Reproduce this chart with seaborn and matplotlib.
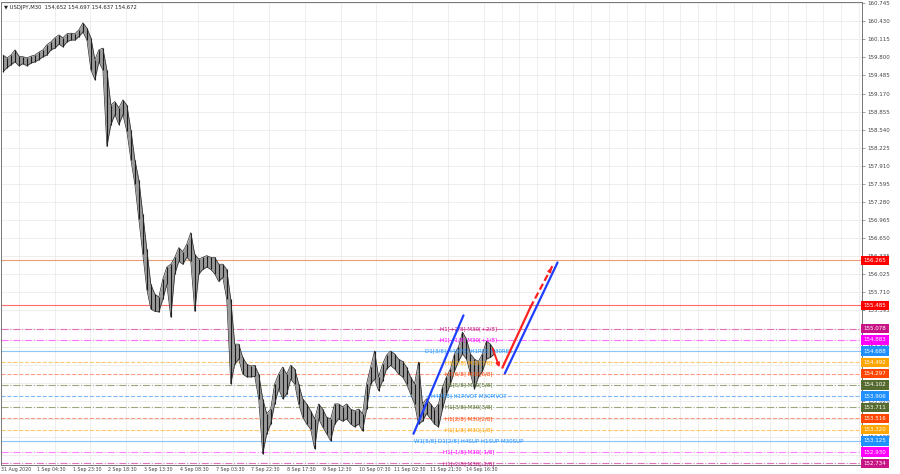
import numpy as np
import matplotlib
matplotlib.use('Agg')
import matplotlib.pyplot as plt
import matplotlib.transforms as mtransforms
import seaborn as sns

# header text
symbol_text = "\u25bc USDJPY,M30  154.652 154.697 154.637 154.672"

# M30 bars (sampled), high / low
highs = [159.84, 159.79, 159.84, 159.93, 159.82, 159.81, 159.79, 159.82, 159.84, 159.89,
         159.93, 160.02, 160.07, 160.14, 160.19, 160.14, 160.21, 160.22, 160.21, 160.28,
         160.40, 160.31, 160.14, 159.76, 159.93, 159.96, 159.58, 158.97, 159.03, 158.92,
         159.06, 158.97, 158.54, 158.02, 157.67, 157.07, 156.46, 155.85, 155.68, 155.63,
         155.94, 156.15, 156.20, 156.32, 156.49, 156.42, 156.55, 156.75, 156.37, 156.29,
         156.32, 156.35, 156.32, 156.32, 156.20, 156.20, 156.11, 155.59, 154.81, 154.81,
         154.58, 154.46, 154.43, 154.44, 154.29, 153.86, 153.60, 153.68, 154.12, 154.29,
         154.41, 154.29, 154.44, 154.38, 154.12, 153.86, 153.77, 153.65, 153.51, 153.77,
         153.68, 153.54, 153.51, 153.77, 153.77, 153.72, 153.77, 153.68, 153.65, 153.68,
         153.60, 154.12, 154.41, 154.69, 154.24, 154.46, 154.62, 154.69, 154.64, 154.55,
         154.51, 154.41, 154.24, 154.12, 154.50, 153.77, 153.86, 153.77, 153.68, 153.77,
         154.06, 154.24, 154.38, 154.64, 154.76, 155.02, 154.90, 154.64, 154.55, 154.51,
         154.64, 154.86, 154.81, 154.70]
lows = [159.55, 159.62, 159.67, 159.72, 159.65, 159.69, 159.65, 159.70, 159.72, 159.76,
        159.81, 159.84, 159.93, 159.96, 160.03, 159.98, 160.07, 160.10, 160.10, 160.16,
        160.24, 160.10, 159.58, 159.41, 159.72, 159.58, 158.25, 158.63, 158.80, 158.63,
        158.80, 158.51, 158.02, 157.59, 156.98, 156.37, 155.76, 155.42, 155.38, 155.37,
        155.59, 155.85, 155.28, 156.03, 156.25, 156.20, 156.32, 156.25, 155.38, 156.03,
        156.11, 156.15, 156.11, 156.03, 155.90, 155.97, 155.59, 154.12, 154.46, 154.55,
        154.29, 154.24, 154.24, 154.25, 153.86, 152.90, 153.25, 153.42, 153.77, 154.03,
        153.86, 153.94, 154.20, 154.12, 153.77, 153.54, 153.42, 153.33, 152.99, 153.51,
        153.37, 153.25, 153.13, 153.42, 153.51, 153.47, 153.51, 153.42, 153.37, 153.42,
        153.30, 153.68, 154.12, 154.20, 154.00, 154.17, 154.38, 154.44, 154.38, 154.29,
        154.24, 154.12, 153.94, 153.77, 153.42, 153.47, 153.60, 153.51, 153.42, 153.37,
        153.68, 153.94, 154.12, 154.34, 154.51, 154.64, 154.55, 154.29, 154.03, 154.24,
        154.34, 154.55, 154.58, 154.64]

time_labels = ["31 Aug 2020", "1 Sep 04:30", "1 Sep 23:30", "2 Sep 18:30", "3 Sep 13:30",
               "4 Sep 08:30", "7 Sep 03:30", "7 Sep 22:30", "8 Sep 17:30", "9 Sep 12:30",
               "10 Sep 07:30", "11 Sep 02:30", "11 Sep 21:30", "14 Sep 16:30"]

price_ticks = [160.745, 160.430, 160.115, 159.800, 159.485, 159.170, 158.855, 158.540,
               158.225, 157.910, 157.595, 157.280, 156.965, 156.650, 156.335, 156.025,
               155.710, 155.395, 155.080, 154.765, 154.450, 154.135, 153.820, 153.505,
               153.190, 152.875]

# horizontal levels
level_prices = [156.265, 155.485, 155.078, 154.883, 154.688, 154.492, 154.297, 154.102,
                153.906, 153.711, 153.516, 153.320, 153.125, 152.930, 152.734]
level_colors = ["#ff0000", "#ff0000", "#c71585", "#ff00ff", "#1e90ff", "#ffa500", "#ff4500",
                "#556b2f", "#1e90ff", "#556b2f", "#ff4500", "#ffa500", "#1e90ff", "#ff00ff",
                "#c71585"]
line_colors = ["#eb9a7a", "#ff6a6a", "#e070b8", "#ff70ff", "#8cc4f5", "#ffc870", "#ff9a80",
               "#9aa880", "#80b8f5", "#9aa880", "#ff9a80", "#ffc870", "#8cc4f5", "#ff80ff",
               "#e070b8"]
level_styles = ["solid", "solid", "dashdot", "dashdot", "solid", "dashed", "dashed", "dashdot",
                "dashed", "dashdot", "dashed", "dashed", "solid", "dashdot", "dashdot"]
level_names = ["", "", "H1[+2/8] M30[+2/8]", "H1[+1/8] M30[+1/8]",
               "D1[3/8] H4[8/8] H1RES M30RES", "H1[7/8] M30[7/8]", "H1[6/8] M30[6/8]",
               "H1[5/8] M30[5/8]", "H4[4/8] H1PIVOT M30PIVOT", "H1[3/8] M30[3/8]",
               "H1[2/8] M30[2/8]", "H1[1/8] M30[1/8]", "W1[5/8] D1[2/8] H4SUP H1SUP M30SUP",
               "H1[-1/8] M30[-1/8]", "H1[-2/8] M30[-2/8]"]

# drawn trend lines / forecast arrows (bar index, price)
trend_x = [102.75, 115.25]
trend_y = [153.25, 155.31]
down_x = [122.3, 124.5]
down_y = [154.78, 154.36]
up_x = [125.0, 132.0]
up_y = [154.40, 155.45]
up_dash_x = [132.0, 137.6]
up_dash_y = [155.45, 156.18]
channel_x = [125.6, 138.8]
channel_y = [154.30, 156.23]

sns.set_theme(style="white")
plt.rcParams['font.family'] = ['DejaVu Sans']

fig = plt.figure(figsize=(9, 4.74), dpi=100)
ax = fig.add_axes([1 / 900, 1 - 465 / 474, 861 / 900, 463 / 474])
ax.set_facecolor("white")

x = np.arange(len(highs))
ax.fill_between(x, lows, highs, color="#9a9a9a", lw=0, zorder=3)
ax.vlines(x, lows, highs, color="#1a1a1a", lw=0.8, zorder=3)
ax.plot(x, highs, color="#2a2a2a", lw=0.5, zorder=3)
ax.plot(x, lows, color="#2a2a2a", lw=0.5, zorder=3)

for p, c, lc, ls, name in zip(level_prices, level_colors, line_colors, level_styles, level_names):
    ax.axhline(p, color=lc, ls=ls, lw=0.8, zorder=2)
    if name:
        ax.text(116.5, p, name, color=c, fontsize=4, ha="center", va="center", zorder=5)

blue = "#1f3fff"
red = "#ff2020"
sns.lineplot(x=trend_x, y=trend_y, color=blue, lw=1.6, ax=ax, zorder=6)
sns.lineplot(x=channel_x, y=channel_y, color=blue, lw=1.6, ax=ax, zorder=6)
sns.lineplot(x=up_x, y=up_y, color=red, lw=1.6, ax=ax, zorder=6)
ax.plot(up_dash_x, up_dash_y, color=red, lw=1.6, ls=(0, (3, 1.5)), zorder=6)
ax.annotate("", xy=(down_x[1], down_y[1]), xytext=(down_x[0], down_y[0]),
            arrowprops=dict(arrowstyle="-|>", color=red, lw=1.4, mutation_scale=5), zorder=6)
ax.annotate("", xy=(up_dash_x[1], up_dash_y[1]),
            xytext=(up_dash_x[1] - 0.8, up_dash_y[1] - 0.106),
            arrowprops=dict(arrowstyle="-|>", color=red, lw=1.2, mutation_scale=5), zorder=6)

ax.set_xlim(-0.25, 215)
ax.set_ylim(152.707, 160.762)

# axes, ticks, grid
ax.yaxis.tick_right()
ax.set_yticks(price_ticks)
tick_text = []
for t in price_ticks:
    hidden = min(abs(t - p) for p in level_prices) < 0.06
    tick_text.append("" if hidden else f"{t:.3f}")
ax.set_yticklabels(tick_text, fontsize=4, color="#444444")
label_pos = [-0.5 + 8.95 * i for i in range(len(time_labels))]
ax.set_xticks(label_pos)
ax.set_xticklabels(time_labels, fontsize=3.4, color="#444444", ha="left")
ax.set_xticks(np.arange(-0.5, 215, 4.475), minor=True)
ax.tick_params(axis="y", which="major", length=2, width=0.5, color="#777777", pad=1.5)
ax.tick_params(axis="x", which="major", length=1, width=0.5, color="#777777", pad=0.3)
ax.tick_params(axis="x", which="minor", length=0)
ax.grid(True, which="major", axis="y", color="#ebebeb", lw=0.6, zorder=0)
ax.grid(True, which="minor", axis="x", color="#ebebeb", lw=0.6, zorder=0)
ax.grid(False, which="major", axis="x")
for s in ax.spines.values():
    s.set_color("#777777")
    s.set_linewidth(0.7)

# price boxes on the right scale
trans = mtransforms.blended_transform_factory(ax.transAxes, ax.transData)
for p, c in zip(level_prices, level_colors):
    ax.text(1.002, p, f"{p:.3f}", transform=trans, fontsize=4, color="white",
            ha="left", va="center", clip_on=False, zorder=10,
            bbox=dict(boxstyle="square,pad=0.4", fc=c, ec=c, lw=0))

ax.text(0.004, 0.993, symbol_text, transform=ax.transAxes, fontsize=3.8,
        color="#222222", ha="left", va="top")

fig.savefig("out.png", dpi=100)
